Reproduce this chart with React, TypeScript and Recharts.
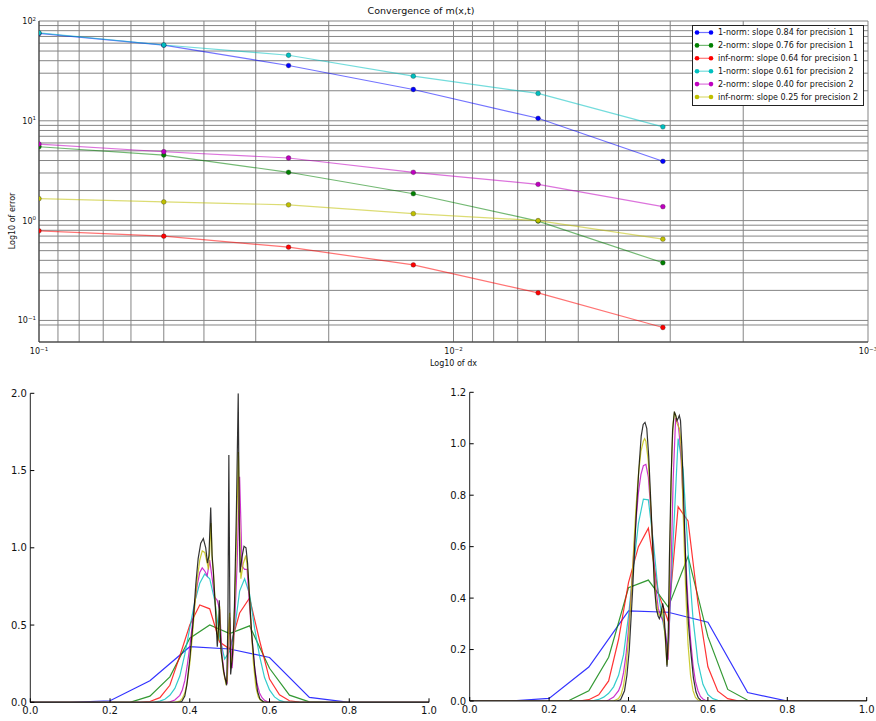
import { CartesianGrid, Line, LineChart, XAxis, YAxis } from "recharts";

// ---- top panel: convergence of the error norms ----
const dxValues = [0.1, 0.05, 0.025, 0.0125, 0.00625, 0.003125];
const norm1Prec1 = [75, 57.2, 35.8, 20.6, 10.6, 3.93];
const norm2Prec1 = [5.5, 4.54, 3.05, 1.86, 0.99, 0.378];
const normInfPrec1 = [0.79, 0.698, 0.542, 0.36, 0.189, 0.085];
const norm1Prec2 = [76, 57.5, 45.4, 28.0, 18.8, 8.7];
const norm2Prec2 = [5.85, 4.9, 4.24, 3.05, 2.31, 1.38];
const normInfPrec2 = [1.66, 1.54, 1.44, 1.175, 1.0, 0.652];

const seriesKeys = ["n1p1", "n2p1", "ninfp1", "n1p2", "n2p2", "ninfp2"];
const seriesLabels = [
  "1-norm: slope 0.84 for precision 1",
  "2-norm: slope 0.76 for precision 1",
  "inf-norm: slope 0.64 for precision 1",
  "1-norm: slope 0.61 for precision 2",
  "2-norm: slope 0.40 for precision 2",
  "inf-norm: slope 0.25 for precision 2"
];
const seriesColors = ["#0000ff", "#008000", "#ff0000", "#00bfbf", "#bf00bf", "#bfbf00"];

const dxTicks = [
  0.1, 0.09, 0.08, 0.07, 0.06, 0.05, 0.04, 0.03, 0.02,
  0.01, 0.009, 0.008, 0.007, 0.006, 0.005, 0.004, 0.003, 0.002, 0.001
];
const errorTicks = [
  0.09, 0.1, 0.2, 0.3, 0.4, 0.5, 0.6, 0.7, 0.8, 0.9,
  1, 2, 3, 4, 5, 6, 7, 8, 9, 10, 20, 30, 40, 50, 60, 70, 80, 90, 100
];

const errorTable = dxValues.map((dx, i) => ({
  dx,
  n1p1: norm1Prec1[i],
  n2p1: norm2Prec1[i],
  ninfp1: normInfPrec1[i],
  n1p2: norm1Prec2[i],
  n2p2: norm2Prec2[i],
  ninfp2: normInfPrec2[i]
}));

// ---- bottom panels: m(x) at each resolution, as [x, m] ----
type Pt = [number, number];

const leftBlue: Pt[] = [[0, 0], [0.1, 0], [0.2, 0.01], [0.3, 0.14], [0.4, 0.36], [0.5, 0.345], [0.6, 0.29], [0.7, 0.032], [0.8, 0], [1, 0]];
const leftGreen: Pt[] = [[0, 0], [0.25, 0], [0.3, 0.04], [0.35, 0.165], [0.4, 0.415], [0.45, 0.5], [0.5, 0.445], [0.55, 0.495], [0.6, 0.22], [0.65, 0.046], [0.7, 0.003], [0.75, 0], [1, 0]];
const leftRed: Pt[] = [[0, 0], [0.275, 0], [0.3, 0.005], [0.325, 0.03], [0.35, 0.11], [0.375, 0.3], [0.4, 0.5], [0.425, 0.63], [0.45, 0.605], [0.475, 0.39], [0.5, 0.345], [0.525, 0.578], [0.55, 0.675], [0.575, 0.4], [0.6, 0.15], [0.625, 0.048], [0.65, 0.01], [0.675, 0.001], [0.7, 0], [1, 0]];
const leftCyan: Pt[] = [[0, 0], [0.3, 0], [0.3125, 0.002], [0.325, 0.008], [0.3375, 0.02], [0.35, 0.045], [0.3625, 0.09], [0.375, 0.17], [0.3875, 0.31], [0.4, 0.48], [0.4125, 0.65], [0.425, 0.77], [0.4375, 0.83], [0.45, 0.8], [0.4625, 0.66], [0.475, 0.42], [0.4875, 0.28], [0.5, 0.33], [0.5125, 0.47], [0.525, 0.72], [0.5375, 0.8], [0.55, 0.7], [0.5625, 0.48], [0.575, 0.3], [0.5875, 0.16], [0.6, 0.08], [0.6125, 0.035], [0.625, 0.012], [0.6375, 0.003], [0.65, 0], [1, 0]];
const leftMagenta: Pt[] = [[0, 0], [0.34375, 0], [0.35, 0.003], [0.3625, 0.015], [0.375, 0.045], [0.38125, 0.08], [0.3875, 0.14], [0.39375, 0.24], [0.4, 0.36], [0.40625, 0.5], [0.4125, 0.64], [0.41875, 0.76], [0.425, 0.84], [0.43125, 0.87], [0.4375, 0.85], [0.44375, 0.82], [0.45, 0.92], [0.45625, 0.8], [0.4625, 0.68], [0.46875, 0.66], [0.475, 0.6], [0.48125, 0.3], [0.4875, 0.16], [0.49375, 0.12], [0.5, 0.55], [0.50625, 0.22], [0.5125, 0.5], [0.51875, 0.9], [0.525, 1.46], [0.53125, 0.88], [0.5375, 0.86], [0.54375, 0.86], [0.55, 0.62], [0.55625, 0.4], [0.5625, 0.23], [0.56875, 0.12], [0.575, 0.06], [0.58125, 0.03], [0.5875, 0.013], [0.59375, 0.005], [0.6, 0.002], [0.6125, 0], [1, 0]];
const leftYellow: Pt[] = [[0, 0], [0.3625, 0], [0.375, 0.008], [0.38125, 0.025], [0.3875, 0.06], [0.39375, 0.13], [0.4, 0.25], [0.40625, 0.42], [0.4125, 0.62], [0.41875, 0.8], [0.425, 0.92], [0.43125, 0.98], [0.4375, 0.97], [0.44375, 0.9], [0.446875, 0.86], [0.45, 0.98], [0.453125, 1.16], [0.45625, 0.92], [0.459375, 0.84], [0.4625, 0.7], [0.46875, 0.45], [0.471875, 0.4], [0.475, 0.62], [0.478125, 0.35], [0.484375, 0.2], [0.490625, 0.12], [0.49375, 0.14], [0.496875, 0.45], [0.5, 0.58], [0.503125, 0.22], [0.509375, 0.35], [0.515625, 0.9], [0.521875, 1.62], [0.525, 1.15], [0.528125, 0.8], [0.534375, 0.9], [0.540625, 0.95], [0.546875, 0.82], [0.553125, 0.52], [0.559375, 0.26], [0.565625, 0.1], [0.571875, 0.035], [0.578125, 0.01], [0.584375, 0.003], [0.59, 0], [1, 0]];
const leftBlack: Pt[] = [[0, 0], [0.37, 0], [0.38, 0.005], [0.3875, 0.04], [0.3925, 0.11], [0.4, 0.28], [0.409, 0.54], [0.415, 0.76], [0.421, 0.93], [0.4275, 1.03], [0.434, 1.06], [0.44, 1.0], [0.4445, 0.9], [0.448, 0.95], [0.4525, 1.26], [0.456, 0.95], [0.459, 0.85], [0.464, 0.62], [0.469, 0.36], [0.4725, 0.5], [0.474, 0.66], [0.4765, 0.45], [0.4785, 0.33], [0.485, 0.2], [0.4925, 0.11], [0.4955, 0.5], [0.498, 1.6], [0.5005, 0.6], [0.5025, 0.18], [0.507, 0.3], [0.512, 0.62], [0.517, 1.25], [0.5215, 2.0], [0.524, 1.2], [0.526, 0.84], [0.531, 0.94], [0.536, 1.01], [0.541, 1.0], [0.545, 0.9], [0.549, 0.72], [0.555, 0.45], [0.5636, 0.2], [0.57, 0.07], [0.576, 0.022], [0.585, 0.003], [0.595, 0], [1, 0]];

const rightBlue: Pt[] = [[0, 0], [0.1, 0], [0.2, 0.01], [0.3, 0.132], [0.4, 0.35], [0.5, 0.345], [0.6, 0.306], [0.7, 0.033], [0.8, 0], [1, 0]];
const rightGreen: Pt[] = [[0, 0], [0.2, 0], [0.25, 0.002], [0.3, 0.04], [0.35, 0.17], [0.4, 0.44], [0.45, 0.47], [0.5, 0.365], [0.55, 0.562], [0.6, 0.25], [0.65, 0.045], [0.7, 0.003], [0.75, 0], [1, 0]];
const rightRed: Pt[] = [[0, 0], [0.275, 0], [0.3, 0.005], [0.325, 0.024], [0.35, 0.078], [0.375, 0.24], [0.4, 0.46], [0.425, 0.6], [0.45, 0.672], [0.475, 0.42], [0.5, 0.31], [0.525, 0.755], [0.55, 0.7], [0.575, 0.38], [0.6, 0.133], [0.625, 0.038], [0.65, 0.009], [0.675, 0.001], [0.7, 0], [1, 0]];
const rightCyan: Pt[] = [[0, 0], [0.3, 0], [0.3125, 0.002], [0.325, 0.006], [0.3375, 0.015], [0.35, 0.03], [0.3625, 0.055], [0.375, 0.1], [0.3875, 0.18], [0.4, 0.33], [0.4125, 0.52], [0.425, 0.69], [0.4375, 0.785], [0.45, 0.782], [0.4625, 0.62], [0.475, 0.42], [0.4875, 0.3], [0.5, 0.2], [0.5125, 0.62], [0.525, 1.02], [0.5375, 0.9], [0.55, 0.58], [0.5625, 0.32], [0.575, 0.15], [0.5875, 0.065], [0.6, 0.025], [0.6125, 0.009], [0.625, 0.003], [0.6375, 0], [1, 0]];
const rightMagenta: Pt[] = [[0, 0], [0.34375, 0], [0.35, 0.004], [0.3625, 0.015], [0.375, 0.04], [0.38125, 0.065], [0.3875, 0.11], [0.39375, 0.18], [0.4, 0.28], [0.40625, 0.41], [0.4125, 0.56], [0.41875, 0.7], [0.425, 0.81], [0.43125, 0.88], [0.4375, 0.915], [0.44375, 0.92], [0.45, 0.87], [0.45625, 0.74], [0.4625, 0.58], [0.46875, 0.44], [0.475, 0.36], [0.48125, 0.33], [0.4875, 0.31], [0.49375, 0.26], [0.5, 0.16], [0.50625, 0.45], [0.5125, 0.86], [0.51875, 1.1], [0.525, 1.08], [0.53125, 0.98], [0.5375, 0.78], [0.54375, 0.56], [0.55, 0.38], [0.55625, 0.24], [0.5625, 0.14], [0.56875, 0.075], [0.575, 0.04], [0.58125, 0.018], [0.5875, 0.008], [0.59375, 0.003], [0.6, 0.001], [0.6125, 0], [1, 0]];
const rightYellow: Pt[] = [[0, 0], [0.3625, 0], [0.375, 0.01], [0.38125, 0.025], [0.3875, 0.06], [0.39375, 0.13], [0.4, 0.24], [0.40625, 0.4], [0.4125, 0.58], [0.41875, 0.75], [0.425, 0.88], [0.43125, 0.97], [0.4375, 1.01], [0.440625, 1.02], [0.44375, 1.01], [0.45, 0.93], [0.45625, 0.75], [0.4625, 0.55], [0.46875, 0.4], [0.475, 0.34], [0.48125, 0.33], [0.484375, 0.36], [0.4875, 0.33], [0.49375, 0.22], [0.496875, 0.14], [0.5, 0.2], [0.503125, 0.45], [0.50625, 0.75], [0.509375, 0.97], [0.5125, 1.08], [0.515625, 1.12], [0.51875, 1.11], [0.521875, 1.08], [0.525, 1.07], [0.528125, 1.06], [0.53125, 1.02], [0.534375, 0.9], [0.5375, 0.74], [0.54375, 0.44], [0.55, 0.22], [0.55625, 0.1], [0.5625, 0.04], [0.56875, 0.014], [0.575, 0.004], [0.58125, 0.001], [0.5875, 0], [1, 0]];
const rightBlack: Pt[] = [[0, 0], [0.37, 0], [0.38, 0.005], [0.39, 0.04], [0.396, 0.1], [0.402, 0.2], [0.41, 0.42], [0.419, 0.71], [0.426, 0.9], [0.432, 1.03], [0.437, 1.075], [0.4416, 1.083], [0.446, 1.06], [0.451, 0.95], [0.456, 0.78], [0.461, 0.6], [0.465, 0.45], [0.47, 0.36], [0.4745, 0.33], [0.4777, 0.32], [0.482, 0.34], [0.486, 0.38], [0.4885, 0.36], [0.491, 0.3], [0.494, 0.22], [0.497, 0.133], [0.5, 0.25], [0.503, 0.55], [0.507, 0.85], [0.511, 1.05], [0.5155, 1.125], [0.519, 1.11], [0.5222, 1.09], [0.5255, 1.1], [0.528, 1.11], [0.531, 1.09], [0.535, 0.97], [0.5406, 0.71], [0.546, 0.45], [0.551, 0.3], [0.557, 0.19], [0.5635, 0.09], [0.57, 0.035], [0.576, 0.012], [0.582, 0.003], [0.59, 0], [1, 0]];

const profileColors = ["#0000ff", "#008000", "#ff0000", "#00bfbf", "#bf00bf", "#bfbf00", "#000000"];
const leftProfiles = [leftBlue, leftGreen, leftRed, leftCyan, leftMagenta, leftYellow, leftBlack];
const rightProfiles = [rightBlue, rightGreen, rightRed, rightCyan, rightMagenta, rightYellow, rightBlack];

const unitTicks = [0, 0.2, 0.4, 0.6, 0.8, 1.0];
const leftYTicks = [0, 0.5, 1.0, 1.5, 2.0];
const rightYTicks = [0, 0.2, 0.4, 0.6, 0.8, 1.0, 1.2];

const FONT = "DejaVu Sans";
const INK = "#111";

function supExp(e: number) {
  return e < 0 ? `\u2212${-e}` : `${e}`;
}

function isDecade(v: number) {
  const p = Math.log10(v);
  return Math.abs(p - Math.round(p)) < 1e-6;
}

function PowerXTick(props: any) {
  const { x, y, payload } = props;
  if (!isDecade(payload.value)) return <g />;
  const e = Math.round(Math.log10(payload.value));
  return (
    <text x={x} y={y + 8} textAnchor="middle" fontSize={8} fontFamily={FONT} fill={INK}>
      10<tspan dy={-3.5} fontSize={5.5}>{supExp(e)}</tspan>
    </text>
  );
}

function PowerYTick(props: any) {
  const { x, y, payload } = props;
  if (!isDecade(payload.value)) return <g />;
  const e = Math.round(Math.log10(payload.value));
  return (
    <text x={x} y={y + 3} textAnchor="end" fontSize={8} fontFamily={FONT} fill={INK}>
      10<tspan dy={-3.5} fontSize={5.5}>{supExp(e)}</tspan>
    </text>
  );
}

// legend box drawn inside the chart svg, top right of the plot
function ErrorLegend({ left, top }: { left: number; top: number }) {
  return (
    <g transform={`translate(${left} ${top})`}>
      <rect x={0.5} y={0.5} width={171} height={80} fill="#fff" stroke="#222" />
      {seriesLabels.map((label, i) => {
        const cy = 7.5 + i * 12.9;
        const c = seriesColors[i];
        return (
          <g key={label}>
            <line x1={5} x2={19} y1={cy} y2={cy} stroke={c} strokeOpacity={0.55} strokeWidth={1.2} />
            <circle cx={5} cy={cy} r={2.3} fill={c} />
            <circle cx={19} cy={cy} r={2.3} fill={c} />
            <text x={26} y={cy + 2.8} fontSize={8} fontFamily={FONT} fill={INK}>
              {label}
            </text>
          </g>
        );
      })}
    </g>
  );
}

function ConvergenceChart() {
  return (
    <LineChart width={876} height={380} data={errorTable} margin={{ top: 21, right: 8, bottom: 0, left: 0 }}>
      <CartesianGrid stroke="#858585" strokeWidth={1} />
      <XAxis
        dataKey="dx"
        type="number"
        scale="log"
        domain={[0.001, 0.1]}
        reversed
        allowDataOverflow
        ticks={dxTicks}
        interval={0}
        height={38}
        tickSize={0}
        tickMargin={4}
        tickLine={false}
        axisLine={{ stroke: "#333" }}
        tick={PowerXTick}
      />
      <YAxis
        type="number"
        scale="log"
        domain={[0.0608, 100]}
        allowDataOverflow
        ticks={errorTicks}
        interval={0}
        width={39}
        tickSize={0}
        tickMargin={3}
        tickLine={false}
        axisLine={{ stroke: "#333" }}
        tick={PowerYTick}
      />
      <XAxis xAxisId="top" orientation="top" type="number" domain={[0, 1]} height={0} tick={false} tickLine={false} axisLine={{ stroke: "#333" }} />
      <YAxis yAxisId="right" orientation="right" type="number" domain={[0, 1]} width={0} tick={false} tickLine={false} axisLine={{ stroke: "#333" }} />
      {seriesKeys.map((k, i) => (
        <Line
          key={k}
          dataKey={k}
          type="linear"
          stroke={seriesColors[i]}
          strokeOpacity={0.55}
          strokeWidth={1.2}
          dot={{ r: 2.4, fill: seriesColors[i], fillOpacity: 1, stroke: "#222", strokeWidth: 0.3, strokeOpacity: 1 }}
          isAnimationActive={false}
        />
      ))}
      <ErrorLegend left={692} top={25} />
      <text x={421} y={13.5} textAnchor="middle" fontSize={9.5} fontFamily={FONT} fill={INK}>
        Convergence of m(x,t)
      </text>
      <text x={453.5} y={366} textAnchor="middle" fontSize={8} fontFamily={FONT} fill={INK}>
        Log10 of dx
      </text>
      <text x={14.5} y={221} textAnchor="middle" fontSize={8} fontFamily={FONT} fill={INK} transform="rotate(-90 14.5 221)">
        Log10 of error
      </text>
    </LineChart>
  );
}

function BottomXTick(props: any) {
  const { x, y, payload } = props;
  return (
    <g>
      <line x1={x} y1={y - 4} x2={x} y2={y - 8} stroke="#000" />
      <text x={x} y={y + 7.5} textAnchor="middle" fontSize={10} fontFamily={FONT} fill={INK}>
        {payload.value.toFixed(1)}
      </text>
    </g>
  );
}

function BottomYTick(props: any) {
  const { x, y, payload } = props;
  return (
    <g>
      <line x1={x + 3.5} y1={y} x2={x + 7.5} y2={y} stroke="#000" />
      <text x={x} y={y + 3.6} textAnchor="end" fontSize={10} fontFamily={FONT} fill={INK}>
        {payload.value.toFixed(1)}
      </text>
    </g>
  );
}

function TopTick(props: any) {
  const { x, y } = props;
  return <line x1={x} y1={y} x2={x} y2={y + 4} stroke="#000" />;
}

function RightTick(props: any) {
  const { x, y } = props;
  return <line x1={x} y1={y} x2={x - 4} y2={y} stroke="#000" />;
}

function ProfilePanel({
  width,
  margin,
  yAxisWidth,
  xAxisHeight,
  yMax,
  yTicks,
  profiles
}: {
  width: number;
  margin: { top: number; right: number; bottom: number; left: number };
  yAxisWidth: number;
  xAxisHeight: number;
  yMax: number;
  yTicks: number[];
  profiles: Pt[][];
}) {
  return (
    <LineChart width={width} height={341} margin={margin}>
      <XAxis
        dataKey="x"
        type="number"
        domain={[0, 1]}
        ticks={unitTicks}
        interval={0}
        height={xAxisHeight}
        tickSize={0}
        tickMargin={4}
        tickLine={false}
        axisLine={{ stroke: "#222" }}
        tick={BottomXTick}
      />
      <YAxis
        type="number"
        domain={[0, yMax]}
        allowDataOverflow
        ticks={yTicks}
        interval={0}
        width={yAxisWidth}
        tickSize={0}
        tickMargin={3.5}
        tickLine={false}
        axisLine={{ stroke: "#222" }}
        tick={BottomYTick}
      />
      <XAxis xAxisId="top" orientation="top" type="number" domain={[0, 1]} allowDataOverflow ticks={unitTicks} interval={0} height={0} tickSize={0} tickMargin={0} tickLine={false} axisLine={{ stroke: "#222" }} tick={TopTick} />
      <YAxis yAxisId="right" orientation="right" type="number" domain={[0, yMax]} allowDataOverflow ticks={yTicks} interval={0} width={0} tickSize={0} tickMargin={0} tickLine={false} axisLine={{ stroke: "#222" }} tick={RightTick} />
      {profiles.map((pts, i) => (
        <Line
          key={profileColors[i]}
          data={pts.map(([x, y]) => ({ x, y }))}
          dataKey="y"
          type="linear"
          stroke={profileColors[i]}
          strokeOpacity={0.8}
          strokeWidth={1.2}
          dot={false}
          isAnimationActive={false}
        />
      ))}
    </LineChart>
  );
}

export default function App() {
  return (
    <div style={{ position: "absolute", left: 0, top: 0, width: 876, height: 721, background: "#fff", fontFamily: FONT }}>
      <div style={{ position: "absolute", left: 0, top: 0 }}>
        <ConvergenceChart />
      </div>
      <div style={{ position: "absolute", left: 0, top: 380 }}>
        <ProfilePanel
          width={440}
          margin={{ top: 13.3, right: 11, bottom: 0, left: 0 }}
          yAxisWidth={30.3}
          xAxisHeight={18.7}
          yMax={2}
          yTicks={leftYTicks}
          profiles={leftProfiles}
        />
      </div>
      <div style={{ position: "absolute", left: 440, top: 380 }}>
        <ProfilePanel
          width={436}
          margin={{ top: 12.3, right: 9.3, bottom: 0, left: 0 }}
          yAxisWidth={29.7}
          xAxisHeight={20}
          yMax={1.2}
          yTicks={rightYTicks}
          profiles={rightProfiles}
        />
      </div>
    </div>
  );
}
